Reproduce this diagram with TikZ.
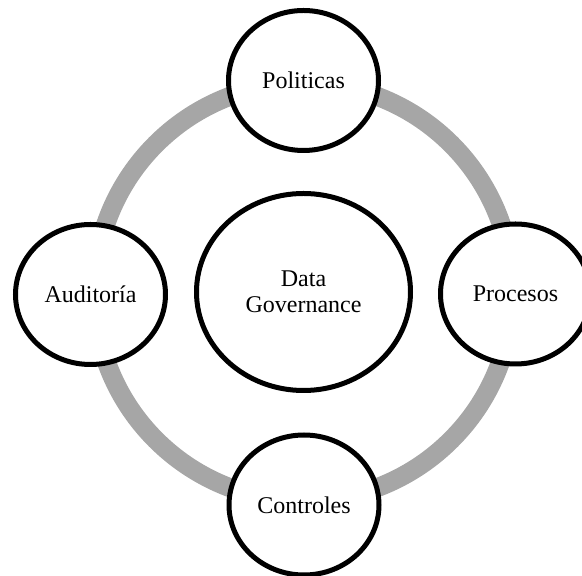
\documentclass[tikz,border=0pt]{standalone}
\usepackage{fontspec}
\setmainfont{Liberation Serif}
\usetikzlibrary{shapes.geometric}
\definecolor{ringgray}{HTML}{A6A6A6}
\begin{document}
\begin{tikzpicture}[x=1pt, y=1pt, font=\fontsize{12}{13}\selectfont, line join=round, line cap=round,
 topic/.style={ellipse, draw, line width=2.5pt, fill=white, inner sep=0pt, minimum width=75pt, minimum height=70pt},
 ring/.style={ringgray, line width=9.5pt}]
 \useasboundingbox (-151.75,-141.5) rectangle (139.25,146.5);
 \node[topic, minimum width=107pt, minimum height=98.5pt, align=center] (gov) at (0,0.5) {Data\\Governance};
 % gray ring behind the four topics
 \begin{scope}[on background layer/.try]
 \draw[ring] (gov.center) circle[radius=104.5];
 \end{scope}
 \node[topic] (pol) at (0,106.25) {Politicas};
 \node[topic] (pro) at (106,-0.5) {Procesos};
 \node[topic] (con) at (0.25,-106) {Controles};
 \node[topic] (aud) at (-106.5,-0.75) {Auditoría};
\end{tikzpicture}
\end{document}
